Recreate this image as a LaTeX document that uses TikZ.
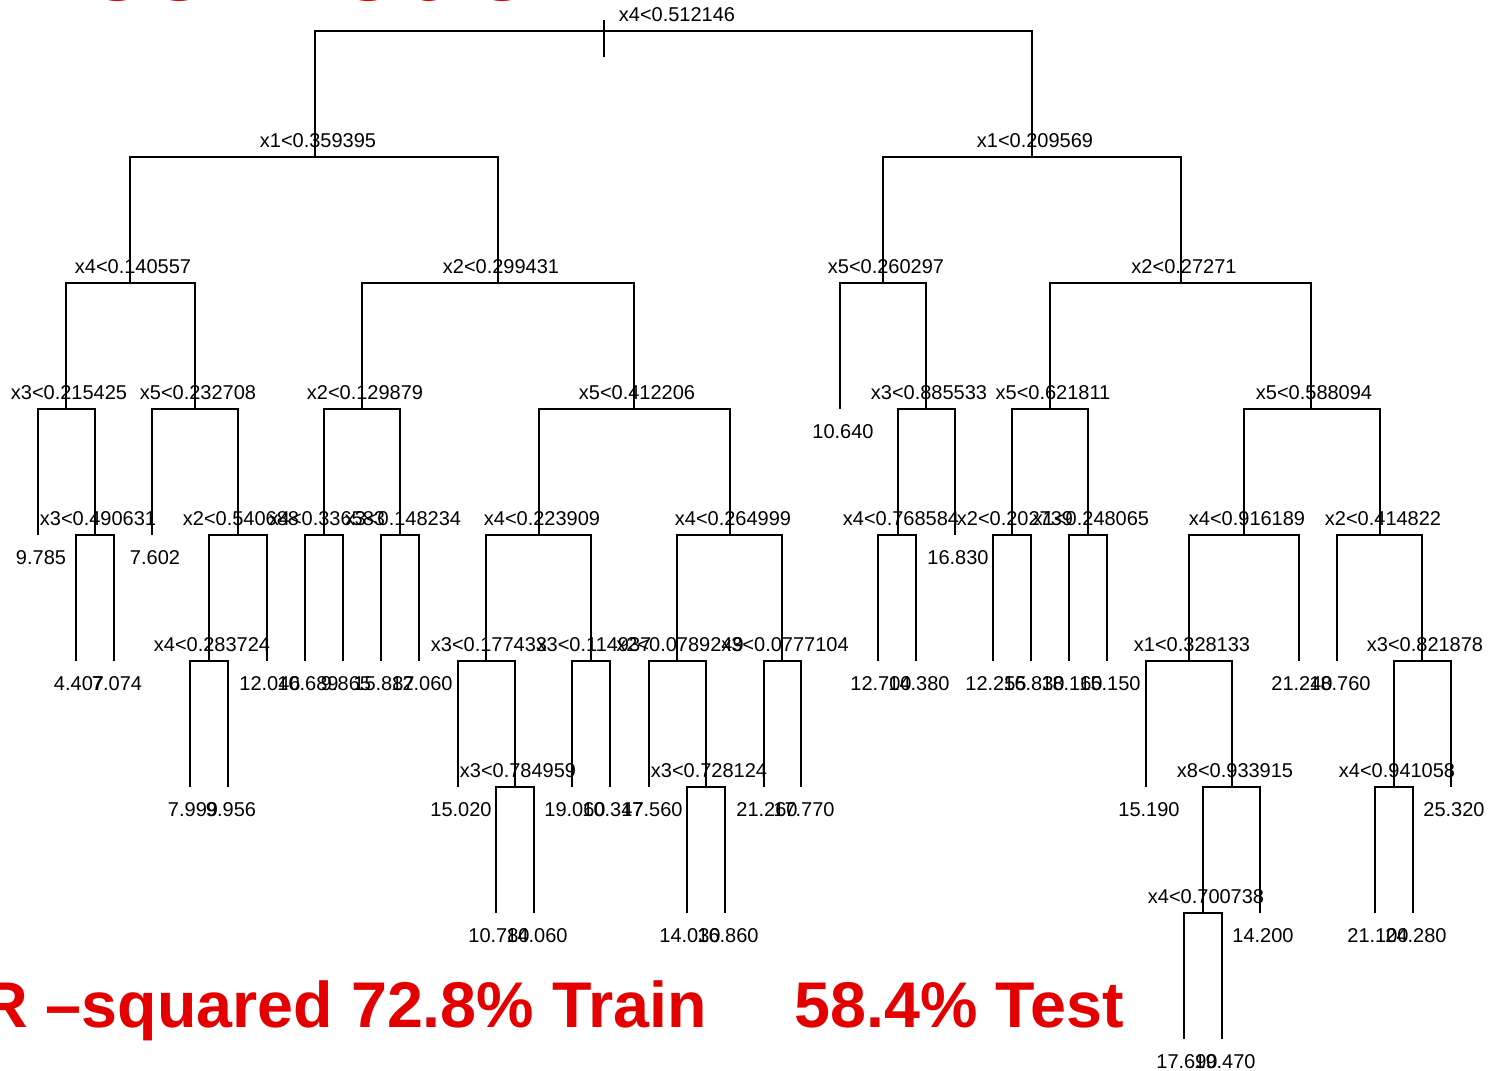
\documentclass[tikz,border=0pt]{standalone}
\usepackage{fontspec}
\setmainfont{Liberation Sans}
\definecolor{titlered}{RGB}{228,0,0}
\tikzset{
  branch/.style={line width=1.1pt},
  splitlab/.style={anchor=base, inner sep=0pt, font=\fontsize{10pt}{12pt}\selectfont},
  leaflab/.style={anchor=base, inner sep=0pt, font=\fontsize{10pt}{12pt}\selectfont},
  bigred/.style={anchor=base west, inner sep=0pt, text=titlered, font=\fontsize{32.3pt}{38pt}\selectfont\bfseries}
}
% split: coordinate at the horizontal bar, label just above it
\newcommand{\tsplit}[4]{\coordinate (#1) at (#2,#3); \node[splitlab] (#1l) at (#2+3,#3-10) {#4};}
% leaf: coordinate at the lower end of its stem, value printed below it
\newcommand{\tleaf}[4]{\coordinate (#1) at (#2,#3); \node[leaflab] (#1l) at (#2+3,#3+29) {#4};}
% parent to its two children
\newcommand{\tjoin}[3]{\draw[branch] (#1) -| (#2); \draw[branch] (#1) -| (#3);}
\begin{document}
\begin{tikzpicture}[x=0.5pt,y=-0.5pt]
\useasboundingbox (0,0) rectangle (1489,1071);

% level heights
\def\La{31}\def\Lb{157}\def\Lc{283}\def\Ld{409}\def\Le{535}
\def\Lf{661}\def\Lg{787}\def\Lh{913}\def\Li{1039}

% title (runs off the top edge)
\node[bigred, font=\fontsize{56pt}{66pt}\selectfont\bfseries] (title) at (-21,0) {Tree Model};

% split nodes
\tsplit{root}{674}{\La}{x4<0.512146}
\tsplit{n1}{315}{\Lb}{x1<0.359395}
\tsplit{n2}{1032}{\Lb}{x1<0.209569}
\tsplit{n3}{130}{\Lc}{x4<0.140557}
\tsplit{n4}{498}{\Lc}{x2<0.299431}
\tsplit{n5}{883}{\Lc}{x5<0.260297}
\tsplit{n6}{1181}{\Lc}{x2<0.27271}
\tsplit{n7}{66}{\Ld}{x3<0.215425}
\tsplit{n8}{195}{\Ld}{x5<0.232708}
\tsplit{n9}{362}{\Ld}{x2<0.129879}
\tsplit{n10}{634}{\Ld}{x5<0.412206}
\tsplit{n11}{926}{\Ld}{x3<0.885533}
\tsplit{n12}{1050}{\Ld}{x5<0.621811}
\tsplit{n13}{1311}{\Ld}{x5<0.588094}
\tsplit{n14}{95}{\Le}{x3<0.490631}
\tsplit{n15}{238}{\Le}{x2<0.540688}
\tsplit{n16}{324}{\Le}{x4<0.336583}
\tsplit{n17}{400}{\Le}{x3<0.148234}
\tsplit{n18}{539}{\Le}{x4<0.223909}
\tsplit{n19}{730}{\Le}{x4<0.264999}
\tsplit{n20}{898}{\Le}{x4<0.768584}
\tsplit{n21}{1012}{\Le}{x2<0.202739}
\tsplit{n22}{1088}{\Le}{x1<0.248065}
\tsplit{n23}{1244}{\Le}{x4<0.916189}
\tsplit{n24}{1380}{\Le}{x2<0.414822}
\tsplit{n25}{209}{\Lf}{x4<0.283724}
\tsplit{n26}{486}{\Lf}{x3<0.177433}
\tsplit{n27}{591}{\Lf}{x3<0.114937}
\tsplit{n28}{677}{\Lf}{x2<0.0789249}
\tsplit{n29}{782}{\Lf}{x3<0.0777104}
\tsplit{n30}{1189}{\Lf}{x1<0.328133}
\tsplit{n31}{1422}{\Lf}{x3<0.821878}
\tsplit{n32}{515}{\Lg}{x3<0.784959}
\tsplit{n33}{706}{\Lg}{x3<0.728124}
\tsplit{n34}{1232}{\Lg}{x8<0.933915}
\tsplit{n35}{1394}{\Lg}{x4<0.941058}
\tsplit{n36}{1203}{\Lh}{x4<0.700738}

% leaves
\tleaf{l1}{840}{\Ld}{10.640}
\tleaf{l2}{38}{\Le}{9.785}
\tleaf{l3}{152}{\Le}{7.602}
\tleaf{l4}{955}{\Le}{16.830}
\tleaf{l5}{76}{\Lf}{4.407}
\tleaf{l6}{114}{\Lf}{7.074}
\tleaf{l7}{267}{\Lf}{12.046}
\tleaf{l8}{305}{\Lf}{10.689}
\tleaf{l9}{343}{\Lf}{9.865}
\tleaf{l10}{381}{\Lf}{15.887}
\tleaf{l11}{419}{\Lf}{12.060}
\tleaf{l12}{878}{\Lf}{12.700}
\tleaf{l13}{916}{\Lf}{14.380}
\tleaf{l14}{993}{\Lf}{12.255}
\tleaf{l15}{1031}{\Lf}{16.830}
\tleaf{l16}{1069}{\Lf}{18.160}
\tleaf{l17}{1107}{\Lf}{15.150}
\tleaf{l18}{1299}{\Lf}{21.240}
\tleaf{l19}{1337}{\Lf}{18.760}
\tleaf{l20}{190}{\Lg}{7.999}
\tleaf{l21}{228}{\Lg}{9.956}
\tleaf{l22}{458}{\Lg}{15.020}
\tleaf{l23}{572}{\Lg}{19.060}
\tleaf{l24}{610}{\Lg}{10.347}
\tleaf{l25}{649}{\Lg}{17.560}
\tleaf{l26}{764}{\Lg}{21.260}
\tleaf{l27}{801}{\Lg}{17.770}
\tleaf{l28}{1146}{\Lg}{15.190}
\tleaf{l29}{1451}{\Lg}{25.320}
\tleaf{l30}{496}{\Lh}{10.780}
\tleaf{l31}{534}{\Lh}{14.060}
\tleaf{l32}{687}{\Lh}{14.030}
\tleaf{l33}{725}{\Lh}{16.860}
\tleaf{l34}{1260}{\Lh}{14.200}
\tleaf{l35}{1375}{\Lh}{21.100}
\tleaf{l36}{1413}{\Lh}{24.280}
\tleaf{l37}{1184}{\Li}{17.690}
\tleaf{l38}{1222}{\Li}{19.470}

% branches
\tjoin{root}{n1}{n2}
\tjoin{n1}{n3}{n4}
\tjoin{n2}{n5}{n6}
\tjoin{n3}{n7}{n8}
\tjoin{n4}{n9}{n10}
\tjoin{n5}{l1}{n11}
\tjoin{n6}{n12}{n13}
\tjoin{n7}{l2}{n14}
\tjoin{n8}{l3}{n15}
\tjoin{n9}{n16}{n17}
\tjoin{n10}{n18}{n19}
\tjoin{n11}{n20}{l4}
\tjoin{n12}{n21}{n22}
\tjoin{n13}{n23}{n24}
\tjoin{n14}{l5}{l6}
\tjoin{n15}{n25}{l7}
\tjoin{n16}{l8}{l9}
\tjoin{n17}{l10}{l11}
\tjoin{n18}{n26}{n27}
\tjoin{n19}{n28}{n29}
\tjoin{n20}{l12}{l13}
\tjoin{n21}{l14}{l15}
\tjoin{n22}{l16}{l17}
\tjoin{n23}{n30}{l18}
\tjoin{n24}{l19}{n31}
\tjoin{n25}{l20}{l21}
\tjoin{n26}{l22}{n32}
\tjoin{n27}{l23}{l24}
\tjoin{n28}{l25}{n33}
\tjoin{n29}{l26}{l27}
\tjoin{n30}{l28}{n34}
\tjoin{n31}{n35}{l29}
\tjoin{n32}{l30}{l31}
\tjoin{n33}{l32}{l33}
\tjoin{n34}{n36}{l34}
\tjoin{n35}{l35}{l36}
\tjoin{n36}{l37}{l38}

% short tick across the top bar
\coordinate (tickA) at (604,20);
\coordinate (tickB) at (604,57);
\draw[branch] (tickA) -- (tickB);

% fit summary
\node[bigred] (train) at (-19,1027) {R –squared 72.8\% Train};
\node[bigred] (test) at (794,1027) {58.4\% Test};
\end{tikzpicture}
\end{document}
